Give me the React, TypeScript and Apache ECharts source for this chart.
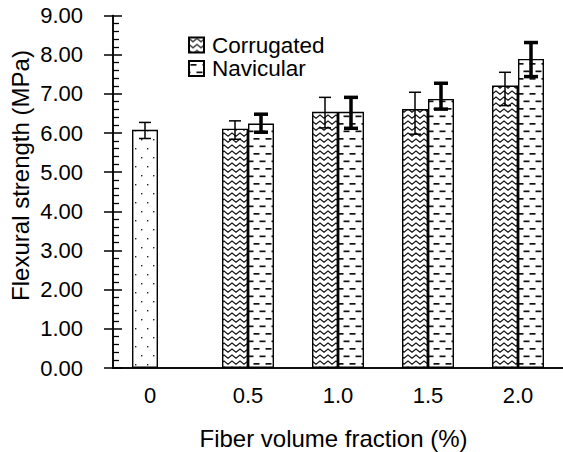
import React, { useEffect, useRef } from 'react';
import * as echarts from 'echarts';

const categories = ['0', '0.5', '1.0', '1.5', '2.0'];
const plainValues = [6.08, null, null, null, null];
const corrugatedValues = [null, 6.11, 6.54, 6.61, 7.21];
const navicularValues = [null, 6.24, 6.54, 6.87, 7.89];
const plainLow = [5.86, null, null, null, null];
const plainHigh = [6.27, null, null, null, null];
const corrugatedLow = [null, 5.84, 6.13, 5.97, 6.7];
const corrugatedHigh = [null, 6.31, 6.91, 7.04, 7.55];
const navicularLow = [null, 6.02, 6.12, 6.61, 7.44];
const navicularHigh = [null, 6.48, 6.91, 7.27, 8.31];

const FONT = '"Liberation Sans", Arial, Helvetica, sans-serif';

function makeCanvas(w: number, h: number, draw: (ctx: CanvasRenderingContext2D) => void) {
  const c = document.createElement('canvas');
  c.width = w;
  c.height = h;
  const ctx = c.getContext('2d')!;
  ctx.fillStyle = '#ffffff';
  ctx.fillRect(0, 0, w, h);
  draw(ctx);
  return c;
}

function dotPattern() {
  return makeCanvas(12, 18, (ctx) => {
    ctx.fillStyle = '#222';
    ctx.fillRect(3, 4, 1.4, 1.4);
    ctx.fillRect(9, 13, 1.4, 1.4);
  });
}

function zigzagPattern() {
  return makeCanvas(8, 6, (ctx) => {
    ctx.strokeStyle = '#111';
    ctx.lineWidth = 1.1;
    ctx.beginPath();
    ctx.moveTo(-2, -0.5);
    ctx.lineTo(0, 1);
    ctx.lineTo(4, 4.2);
    ctx.lineTo(8, 1);
    ctx.lineTo(10, -0.5);
    ctx.stroke();
  });
}

function dashPattern() {
  return makeCanvas(12, 15, (ctx) => {
    ctx.fillStyle = '#111';
    ctx.fillRect(1.5, 3, 6, 1.7);
    ctx.fillRect(7.5, 10.5, 4.5, 1.7);
    ctx.fillRect(0, 10.5, 1.5, 1.7);
  });
}

const toBar = (arr: (number | null)[]) => arr.map((v) => (v == null ? '-' : v));
const toErr = (low: (number | null)[], high: (number | null)[]) =>
  low
    .map((l, i) => (l == null || high[i] == null ? null : [i, l, high[i]]))
    .filter((d) => d != null);

function makeErrRender(offset: number, lw: number, capHalf: number) {
  return (params: any, api: any) => {
    const cat = api.value(0);
    const lo = api.coord([cat, api.value(1)]);
    const hi = api.coord([cat, api.value(2)]);
    const x = lo[0] + offset;
    const style = { stroke: '#000', lineWidth: lw, fill: null };
    return {
      type: 'group',
      children: [
        { type: 'line', shape: { x1: x, y1: lo[1], x2: x, y2: hi[1] }, style },
        { type: 'line', shape: { x1: x - capHalf, y1: hi[1], x2: x + capHalf, y2: hi[1] }, style },
        { type: 'line', shape: { x1: x - capHalf, y1: lo[1], x2: x + capHalf, y2: lo[1] }, style },
      ],
    };
  };
}

export default function App() {
  const ref = useRef<HTMLDivElement>(null);
  useEffect(() => {
    if (!ref.current) return;
    const chart = echarts.init(ref.current, null, { renderer: 'svg' });
    const dots = { image: dotPattern(), repeat: 'repeat' };
    const zig = { image: zigzagPattern(), repeat: 'repeat' };
    const dash = { image: dashPattern(), repeat: 'repeat' };
    const axisLine = { show: true, lineStyle: { color: '#000', width: 1.5 } };
    const option: any = {
      animation: false,
      backgroundColor: '#fff',
      textStyle: { fontFamily: FONT },
      grid: { left: 113, top: 15.5, width: 451, height: 352.5, containLabel: false },
      legend: {
        data: ['Corrugated', 'Navicular'],
        orient: 'vertical',
        left: 183,
        top: 28.5,
        itemWidth: 15,
        itemHeight: 15,
        itemGap: 0.5,
        icon: 'rect',
        selectedMode: false,
        textStyle: { fontSize: 22.5, lineHeight: 22, color: '#000', fontFamily: FONT, padding: [0, 0, 0, 3] },
      },
      xAxis: [
        {
          type: 'category',
          data: categories,
          position: 'bottom',
          axisLine,
          axisTick: { show: false },
          axisLabel: {
            fontSize: 22,
            color: '#000',
            fontFamily: FONT,
            margin: 16,
            formatter: (v: string, i: number) => (i === 0 ? '{s|' + v + '}' : v),
            rich: { s: { fontSize: 22, color: '#000', fontFamily: FONT, padding: [0, 16, 0, 0] } },
          },
          splitLine: { show: false },
        },
        {
          type: 'category',
          data: categories,
          position: 'top',
          axisLine,
          axisTick: { show: false },
          axisLabel: { show: false },
          splitLine: { show: false },
        },
      ],
      yAxis: [
        {
          type: 'value',
          min: 0,
          max: 9,
          interval: 1,
          position: 'left',
          axisLine,
          axisTick: { show: true, inside: false, length: 9, lineStyle: { color: '#000', width: 1.5 } },
          axisLabel: {
            fontSize: 22,
            color: '#000',
            fontFamily: FONT,
            margin: 30,
            formatter: (v: number) => v.toFixed(2),
          },
          splitLine: { show: false },
        },
        {
          type: 'value',
          min: 0,
          max: 9,
          interval: 1,
          position: 'left',
          axisLine,
          axisTick: { show: true, inside: true, length: 9, lineStyle: { color: '#000', width: 1.5 } },
          minorTick: { show: true, splitNumber: 5, length: 6, lineStyle: { color: '#000', width: 1.3 } },
          axisLabel: { show: false },
          splitLine: { show: false },
        },
      ],
      graphic: [
        {
          type: 'text',
          x: 20,
          y: 175.5,
          rotation: Math.PI / 2,
          style: {
            text: 'Flexural strength (MPa)',
            font: '24px ' + FONT,
            fill: '#000',
            align: 'center',
            verticalAlign: 'middle',
          },
        },
        {
          type: 'text',
          x: 333.5,
          y: 438,
          style: {
            text: 'Fiber volume fraction (%)',
            font: '24px ' + FONT,
            fill: '#000',
            align: 'center',
            verticalAlign: 'middle',
          },
        },
      ],
      series: [
        {
          name: 'Plain',
          type: 'bar',
          stack: 'a',
          barWidth: 26,
          barGap: '0%',
          data: toBar(plainValues),
          itemStyle: { color: dots, borderColor: '#000', borderWidth: 1.4 },
        },
        {
          name: 'Corrugated',
          type: 'bar',
          stack: 'a',
          barWidth: 26,
          barGap: '0%',
          data: toBar(corrugatedValues),
          itemStyle: { color: zig, borderColor: '#000', borderWidth: 1.4 },
        },
        {
          name: 'Navicular',
          type: 'bar',
          barWidth: 26,
          barGap: '0%',
          data: toBar(navicularValues),
          itemStyle: { color: dash, borderColor: '#000', borderWidth: 1.4 },
        },
        {
          name: 'errThin',
          type: 'custom',
          z: 10,
          renderItem: makeErrRender(-13, 1.5, 6),
          encode: { x: 0, y: [1, 2] },
          data: [...toErr(plainLow, plainHigh), ...toErr(corrugatedLow, corrugatedHigh)],
          silent: true,
        },
        {
          name: 'errThick',
          type: 'custom',
          z: 10,
          renderItem: makeErrRender(13, 3.5, 7),
          encode: { x: 0, y: [1, 2] },
          data: toErr(navicularLow, navicularHigh),
          silent: true,
        },
      ],
    };
    chart.setOption(option);
    return () => chart.dispose();
  }, []);
  return (
    <div
      ref={ref}
      style={{ position: 'fixed', left: 0, top: 0, width: 563, height: 452, background: '#fff' }}
    />
  );
}
